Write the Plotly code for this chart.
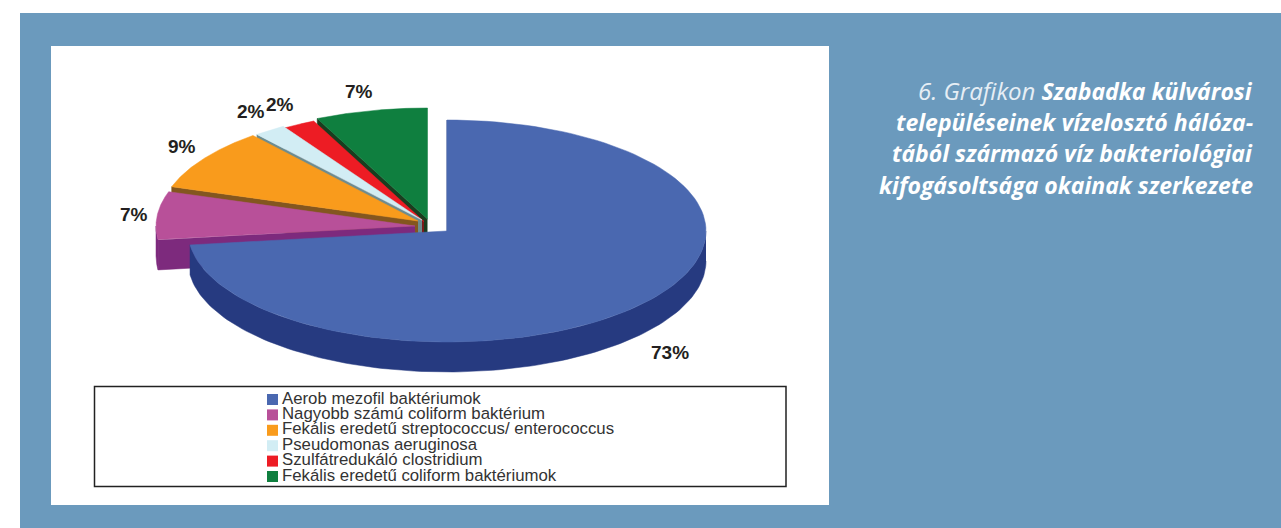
import numpy as np
import plotly.graph_objects as go

# Share of each cause of bacteriological non-compliance, in percent
categories = [
    "Aerob mezofil baktériumok",
    "Nagyobb számú coliform baktérium",
    "Fekális eredetű streptococcus/ enterococcus",
    "Pseudomonas aeruginosa",
    "Szulfátredukáló clostridium",
    "Fekális eredetű coliform baktériumok",
]
values = [73, 7, 9, 2, 2, 7]

top_colors = ["#4a68b0", "#b85099", "#f99b1c", "#d2edf4", "#ed1c24", "#0f7f3f"]
side_colors = ["#263a80", "#7d2a7d", "#83561f", "#6d8c90", "#7a1a1a", "#1a3d1f"]

# Centre of every slice after explosion, in page pixels
slice_centres = [(447, 231), (415, 226), (418, 221), (422, 220), (424, 221.5), (427.5, 219)]
label_anchors = [(670, 352), (134, 214.5), (181.5, 146), (251, 111), (280, 104), (358.5, 91)]

RX, RY, DEPTH = 259, 111, 30
W, H = 1281, 528


def arc(cx, cy, a, b, drop=0, n=120):
    """Points on the projected rim between clockwise angles a and b (degrees from 12 o'clock)."""
    t = np.radians(np.linspace(a, b, n))
    return cx + RX * np.sin(t), cy - RY * np.cos(t) + drop


def area(xs, ys, color):
    return go.Scatter(
        x=np.round(xs, 2), y=np.round(ys, 2), mode="lines", fill="toself", fillcolor=color,
        line=dict(color=color, width=0.5), hoverinfo="skip", showlegend=False,
    )


fig = go.Figure()

edges = np.concatenate([[0], np.cumsum(values)]) * 3.6

# Painter's order: the back slices first, the large front slice last
for i in reversed(range(len(values))):
    cx, cy = slice_centres[i]
    a, b = edges[i], edges[i + 1]

    # Outer wall, only where the rim faces the viewer
    lo, hi = max(a, 90), min(b, 270)
    if lo < hi:
        ux, uy = arc(cx, cy, lo, hi)
        dx, dy = arc(cx, cy, lo, hi, DEPTH)
        fig.add_trace(area(np.r_[ux, dx[::-1]], np.r_[uy, dy[::-1]], side_colors[i]))

    # Radial wall along the slice's leading edge
    ex, ey = arc(cx, cy, a, a, n=1)
    fig.add_trace(area(
        np.r_[cx, ex, ex, cx],
        np.r_[cy, ey, ey + DEPTH, cy + DEPTH],
        side_colors[i],
    ))

    # Top face
    tx, ty = arc(cx, cy, a, b)
    fig.add_trace(area(np.r_[cx, tx, cx], np.r_[cy, ty, cy], top_colors[i]))

# Legend rows: swatch and label kept in separate traces so the gap can be set
SWATCH_X, TEXT_X, LEGEND_Y, LEGEND_STEP = 272.5, 282, 399.5, 15.4
for i, name in enumerate(categories):
    row_y = LEGEND_Y + i * LEGEND_STEP
    fig.add_trace(go.Scatter(
        x=[SWATCH_X], y=[row_y], mode="markers",
        marker=dict(symbol="square", size=11, color=top_colors[i]),
        hoverinfo="skip", showlegend=False,
    ))
    fig.add_trace(go.Scatter(
        x=[TEXT_X], y=[row_y], mode="text",
        text=[name], textposition="middle right",
        textfont=dict(family="Liberation Sans", size=16.8, color="#333333"),
        hoverinfo="skip", showlegend=False,
    ))

annotations = []

# Percentage labels
for v, (lx, ly) in zip(values, label_anchors):
    annotations.append(dict(
        x=lx, y=ly, xref="x", yref="y", text=f"<b>{v}%</b>", showarrow=False,
        font=dict(family="Liberation Sans", size=19, color="#231f20"),
    ))

# Caption, right aligned beside the chart
caption = [
    "<span style='color:#e6eef5;font-size:24px'>6. Grafikon</span> <b>Szabadka külvárosi</b>",
    "<b>településeinek vízelosztó hálóza-</b>",
    "<b>tából származó víz bakteriológiai</b>",
    "<b>kifogásoltsága okainak szerkezete</b>",
]
for i, line in enumerate(caption):
    annotations.append(dict(
        x=1255, y=90 + i * 31.6, xref="x", yref="y", text=line, showarrow=False,
        xanchor="right", align="right",
        font=dict(family="Open Sans", size=23, color="white", style="italic"),
    ))

shapes = [
    dict(type="rect", layer="below", xref="x", yref="y", x0=20, y0=13, x1=W, y1=H,
         fillcolor="#6b9abd", line_width=0),
    dict(type="rect", layer="below", xref="x", yref="y", x0=51, y0=46, x1=829, y1=505,
         fillcolor="white", line_width=0),
    dict(type="rect", layer="below", xref="x", yref="y", x0=94.5, y0=386.5, x1=786, y1=486.5,
         fillcolor="white", line=dict(color="#222222", width=1.5)),
]

fig.update_layout(
    width=W, height=H, margin=dict(l=0, r=0, t=0, b=0),
    paper_bgcolor="white", plot_bgcolor="white",
    xaxis=dict(range=[0, W], visible=False, fixedrange=True),
    yaxis=dict(range=[H, 0], visible=False, fixedrange=True),
    shapes=shapes, annotations=annotations, showlegend=False,
)

fig.write_html("out.html", config=dict(displayModeBar=False))
